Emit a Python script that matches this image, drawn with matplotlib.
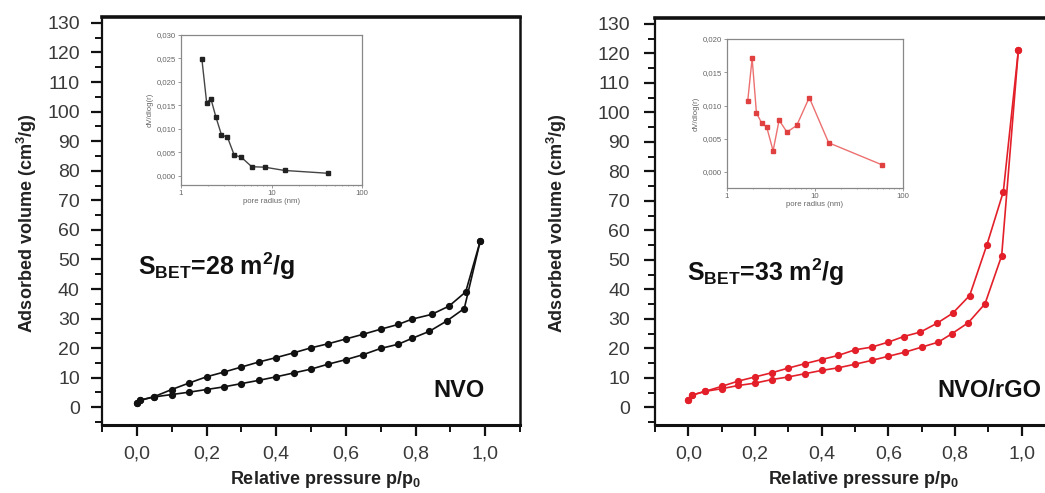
import matplotlib
matplotlib.use('Agg')
import matplotlib.pyplot as plt
from matplotlib.ticker import MultipleLocator, FixedLocator, FixedFormatter, NullFormatter, LogLocator

plt.rcParams['font.family'] = ['Liberation Sans', 'DejaVu Sans']
plt.rcParams['mathtext.fontset'] = 'custom'
plt.rcParams['mathtext.rm'] = 'Liberation Sans'
plt.rcParams['mathtext.bf'] = 'Liberation Sans:bold'
plt.rcParams['mathtext.it'] = 'Liberation Sans:italic'

# ---------------- data ----------------
nvo_ads_p = [0.0, 0.01, 0.05, 0.10, 0.15, 0.20, 0.25, 0.30, 0.35, 0.40, 0.45, 0.50,
             0.55, 0.60, 0.65, 0.70, 0.75, 0.79, 0.84, 0.89, 0.94, 0.986]
nvo_ads_v = [1.5, 2.4, 3.5, 4.3, 5.1, 6.0, 6.9, 8.0, 9.1, 10.3, 11.6, 12.9,
             14.6, 16.1, 17.8, 19.9, 21.3, 23.3, 25.7, 29.2, 33.4, 56.3]
nvo_des_p = [0.986, 0.944, 0.896, 0.846, 0.79, 0.75, 0.70, 0.65, 0.60, 0.55, 0.50,
             0.45, 0.40, 0.35, 0.30, 0.25, 0.20, 0.15, 0.10, 0.05, 0.01, 0.0]
nvo_des_v = [56.3, 39.0, 34.2, 31.4, 29.8, 28.0, 26.4, 24.7, 23.1, 21.5, 20.1,
             18.4, 16.8, 15.3, 13.6, 11.9, 10.3, 8.2, 6.0, 3.6, 2.4, 1.5]

rgo_ads_p = [0.0, 0.01, 0.05, 0.10, 0.15, 0.20, 0.25, 0.30, 0.35, 0.40, 0.45, 0.50,
             0.55, 0.60, 0.65, 0.70, 0.75, 0.79, 0.84, 0.89, 0.94, 0.99]
rgo_ads_v = [2.4, 4.1, 5.4, 6.3, 7.4, 8.2, 9.4, 10.3, 11.4, 12.5, 13.4, 14.6,
             15.9, 17.3, 18.7, 20.4, 22.1, 24.9, 28.7, 35.1, 51.4, 121.0]
rgo_des_p = [0.99, 0.945, 0.896, 0.844, 0.793, 0.746, 0.696, 0.646, 0.60, 0.55, 0.50,
             0.45, 0.40, 0.35, 0.30, 0.25, 0.20, 0.15, 0.10, 0.05, 0.01, 0.0]
rgo_des_v = [121.0, 73.1, 55.2, 37.9, 31.9, 28.5, 25.5, 24.0, 22.1, 20.4, 19.5,
             17.6, 16.2, 14.8, 13.3, 11.7, 10.3, 8.9, 7.1, 5.4, 4.1, 2.4]

nvo_r = [1.70, 1.92, 2.14, 2.43, 2.80, 3.26, 3.87, 4.65, 6.05, 8.41, 13.96, 42.2]
nvo_dv = [0.0249, 0.0156, 0.0164, 0.0125, 0.0087, 0.0082, 0.0044, 0.0039,
          0.0019, 0.0018, 0.0011, 0.0005]
rgo_r = [1.72, 1.93, 2.16, 2.49, 2.82, 3.34, 3.91, 4.80, 6.20, 8.60, 14.3, 57.3]
rgo_dv = [0.0107, 0.0171, 0.0089, 0.0073, 0.0068, 0.0032, 0.0078, 0.0060,
          0.0070, 0.0112, 0.0044, 0.0011]

x_ticks = [0.0, 0.2, 0.4, 0.6, 0.8, 1.0]
x_ticklabels = ['0,0', '0,2', '0,4', '0,6', '0,8', '1,0']
y_ticks = list(range(0, 131, 10))
y_ticklabels = [str(v) for v in y_ticks]
in_x_ticks = [1, 10, 100]
in_x_ticklabels = ['1', '10', '100']
in1_y_ticks = [0.0, 0.005, 0.010, 0.015, 0.020, 0.025, 0.030]
in1_y_ticklabels = ['0,000', '0,005', '0,010', '0,015', '0,020', '0,025', '0,030']
in2_y_ticks = [0.0, 0.005, 0.010, 0.015, 0.020]
in2_y_ticklabels = ['0,000', '0,005', '0,010', '0,015', '0,020']

# ---------------- layout helpers ----------------
W, H = 1045, 493
fig = plt.figure(figsize=(W / 100, H / 100), dpi=100)


def box(l, t, r, b):
    return [l / W, (H - b) / H, (r - l) / W, (b - t) / H]


def main_axes(rect, color, ads_p, ads_v, des_p, des_v, ypad):
    ax = fig.add_axes(rect)
    ax.plot(ads_p, ads_v, '-o', color=color, lw=1.2, ms=4.2, zorder=3)
    ax.plot(des_p, des_v, '-o', color=color, lw=1.2, ms=4.2, zorder=3)
    ax.set_xlim(-0.1, 1.1)
    ax.set_ylim(-6, 132)
    ax.xaxis.set_major_locator(FixedLocator(x_ticks))
    ax.xaxis.set_major_formatter(FixedFormatter(x_ticklabels))
    ax.xaxis.set_minor_locator(MultipleLocator(0.1))
    ax.yaxis.set_major_locator(FixedLocator(y_ticks))
    ax.yaxis.set_major_formatter(FixedFormatter(y_ticklabels))
    ax.yaxis.set_minor_locator(MultipleLocator(5))
    ax.tick_params(which='major', direction='out', length=8, width=1.6,
                   labelsize=14, colors='#111111', labelcolor='#3a3a3a')
    ax.tick_params(which='minor', direction='out', length=5, width=1.4, colors='#111111')
    ax.tick_params(axis='x', which='major', pad=7)
    ax.tick_params(axis='y', which='major', pad=ypad)
    for s, lw in (('left', 1.6), ('bottom', 2.2), ('top', 2.6), ('right', 1.8)):
        ax.spines[s].set_linewidth(lw)
        ax.spines[s].set_color('#111111')
    return ax


def inset_axes(rect, color, lcolor, r, dv, yt, ytl, ylim):
    ax = fig.add_axes(rect)
    ax.plot(r, dv, '-s', color=lcolor, lw=1.0, ms=2.2, mfc=color, mec=color)
    ax.set_xscale('log')
    ax.set_xlim(1, 100)
    ax.set_ylim(*ylim)
    ax.xaxis.set_major_locator(FixedLocator(in_x_ticks))
    ax.xaxis.set_major_formatter(FixedFormatter(in_x_ticklabels))
    ax.xaxis.set_minor_locator(LogLocator(base=10, subs=range(2, 10)))
    ax.xaxis.set_minor_formatter(NullFormatter())
    ax.yaxis.set_major_locator(FixedLocator(yt))
    ax.yaxis.set_major_formatter(FixedFormatter(ytl))
    ax.tick_params(which='major', direction='out', length=2, width=0.6,
                   labelsize=5.6, colors='#888888', labelcolor='#666666', pad=1.5)
    ax.tick_params(which='minor', direction='out', length=1, width=0.5, colors='#888888')
    for s in ax.spines.values():
        s.set_color('#888888')
        s.set_linewidth(0.9)
    ax.set_xlabel('pore radius (nm)', fontsize=5.6, color='#666666', labelpad=1)
    ax.set_ylabel('dV/dlog(r)', fontsize=5.6, color='#666666', labelpad=2)
    return ax


# ---------------- left panel ----------------
ax1 = main_axes(box(102, 17, 520, 425), '#111111', nvo_ads_p, nvo_ads_v,
                nvo_des_p, nvo_des_v, 8)
ax1.text(0.085, 0.39, r'S$_{\mathbf{BET}}$=28 m$^{\mathbf{2}}$/g', transform=ax1.transAxes,
         fontsize=18, fontweight='bold', color='#111111', ha='left', va='center')
ax1.text(0.915, 0.085, 'NVO', transform=ax1.transAxes, fontsize=17, fontweight='bold',
         color='#111111', ha='right', va='center')

# ---------------- right panel ----------------
ax2 = main_axes(box(655, 18, 1055, 425), '#e3202a', rgo_ads_p, rgo_ads_v,
                rgo_des_p, rgo_des_v, 10)
ax2.text(0.08, 0.375, r'S$_{\mathbf{BET}}$=33 m$^{\mathbf{2}}$/g', transform=ax2.transAxes,
         fontsize=18, fontweight='bold', color='#111111', ha='left', va='center')
ax2.text(0.965, 0.085, 'NVO/rGO', transform=ax2.transAxes, fontsize=17, fontweight='bold',
         color='#111111', ha='right', va='center')

# axis labels
fig.text(27 / W, 1 - 223 / H, r'Adsorbed volume (cm$^{\mathbf{3}}$/g)', rotation=90,
         fontsize=13, fontweight='bold', color='#222222', ha='center', va='center')
fig.text(557 / W, 1 - 223 / H, r'Adsorbed volume (cm$^{\mathbf{3}}$/g)', rotation=90,
         fontsize=13, fontweight='bold', color='#222222', ha='center', va='center')
fig.text(325 / W, 1 - 480 / H, r'Relative pressure p/p$_{\mathbf{0}}$',
         fontsize=13, fontweight='bold', color='#222222', ha='center', va='center')
fig.text(863 / W, 1 - 480 / H, r'Relative pressure p/p$_{\mathbf{0}}$',
         fontsize=13, fontweight='bold', color='#222222', ha='center', va='center')

# ---------------- insets ----------------
inset_axes(box(181, 35, 362, 185), '#222222', '#444444', nvo_r, nvo_dv,
           in1_y_ticks, in1_y_ticklabels, (-0.002, 0.030))
inset_axes(box(727, 39, 903, 188), '#e04040', '#ec7070', rgo_r, rgo_dv,
           in2_y_ticks, in2_y_ticklabels, (-0.0024, 0.020))

fig.savefig('out.png', dpi=100)
